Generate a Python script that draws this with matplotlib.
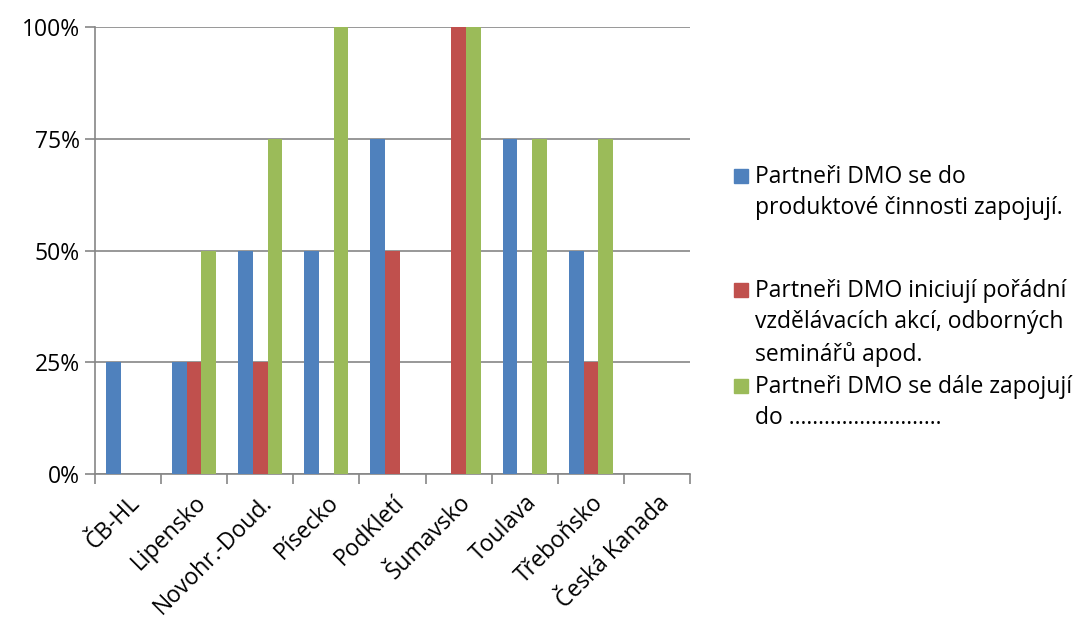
import matplotlib.pyplot as plt
import numpy as np
from matplotlib.patches import Rectangle

plt.rcParams['font.family'] = ['Open Sans', 'DejaVu Sans']

regions = ['ČB-HL', 'Lipensko', 'Novohr.-Doud.', 'Písecko', 'PodKletí',
           'Šumavsko', 'Toulava', 'Třeboňsko', 'Česká Kanada']
zapojuji = [25, 25, 50, 50, 75, 0, 75, 50, 0]
iniciuji = [0, 25, 25, 0, 50, 100, 0, 25, 0]
dale = [0, 50, 75, 100, 0, 100, 75, 75, 0]
series_names = ['Partneři DMO se do\nproduktové činnosti zapojují.',
                'Partneři DMO iniciují pořádní\nvzdělávacích akcí, odborných\nseminářů apod.',
                'Partneři DMO se dále zapojují\ndo ……………………..']
colors = ['#4f81bd', '#c0504d', '#9bbb59']

fig = plt.figure(figsize=(10.78, 6.19), dpi=100)
ax = fig.add_axes([0.0881, 0.234, 0.552, 0.722])

x = np.arange(len(regions))
w = 1 / 4.5
for i, vals in enumerate([zapojuji, iniciuji, dale]):
    ax.bar(x + (i - 1) * w, vals, width=w, color=colors[i], zorder=3)

ax.set_xlim(-0.5, len(regions) - 0.5)
ax.set_ylim(0, 100)
ax.set_yticks([0, 25, 50, 75, 100])
ax.set_yticklabels([f'{v}%' for v in [0, 25, 50, 75, 100]], fontsize=16.5)
ax.yaxis.grid(True, color='#868686', linewidth=1.2, zorder=0)
ax.set_xticks(x)
ax.set_xticklabels(regions, rotation=45, ha='right', rotation_mode='anchor', fontsize=16.5)
ax.tick_params(axis='x', length=0, pad=12)
ax.set_xticks(np.arange(-0.5, len(regions)), minor=True)
ax.tick_params(axis='x', which='minor', length=7, color='#868686', width=1.2)
ax.tick_params(axis='y', length=7, color='#868686', width=1.2, labelcolor='black', pad=4)
for s in ['top', 'right']:
    ax.spines[s].set_visible(False)
for s in ['left', 'bottom']:
    ax.spines[s].set_color('#868686')
    ax.spines[s].set_linewidth(1.2)

# legend drawn by hand to keep Excel's uneven spacing
tops = [176, 290, 386]
for name, c, ty in zip(series_names, colors, tops):
    fig.patches.append(Rectangle((734 / 1078, 1 - (ty + 7) / 619), 14 / 1078, 14 / 619,
                                 transform=fig.transFigure, color=c))
    fig.text(755 / 1078, 1 - (ty - 11) / 619, name, fontsize=16.5, va='top',
             linespacing=1.40)

fig.savefig('out.png', dpi=100)
